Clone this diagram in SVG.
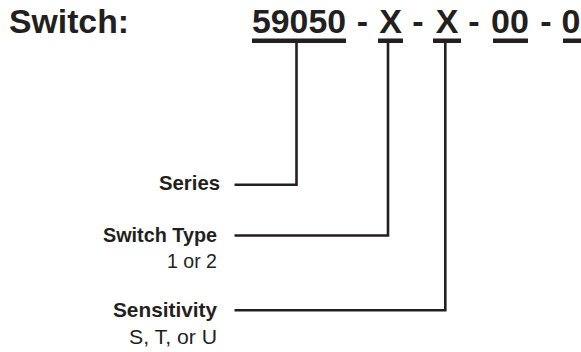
<svg xmlns="http://www.w3.org/2000/svg" width="581" height="352" viewBox="0 0 581 352">
<style>
.t{font-family:"Liberation Sans",Arial,sans-serif;fill:#231f20}
.big{font-size:34px;font-weight:bold}
.lab{font-size:21px;font-weight:bold}
.sub{font-size:20px}
.ul{fill:#231f20}
.ln{fill:none;stroke:#231f20;stroke-width:2.6}
</style>
<rect width="581" height="352" fill="#fff"/>
<g id="title">
<text class="t big" x="9" y="33" textLength="120" lengthAdjust="spacingAndGlyphs">Switch:</text>
</g>
<g id="part-number">
<text class="t big" x="252" y="33" textLength="94" lengthAdjust="spacingAndGlyphs">59050</text>
<text class="t big" x="362.5" y="33" text-anchor="middle">-</text>
<text class="t big" x="390.5" y="33" text-anchor="middle">X</text>
<text class="t big" x="418" y="33" text-anchor="middle">-</text>
<text class="t big" x="447" y="33" text-anchor="middle">X</text>
<text class="t big" x="474" y="33" text-anchor="middle">-</text>
<text class="t big" x="510" y="33" text-anchor="middle">00</text>
<text class="t big" x="546" y="33" text-anchor="middle">-</text>
<text class="t big" x="571" y="33" text-anchor="middle">0</text>
<rect class="ul" x="252" y="38.5" width="94" height="4.5"/>
<rect class="ul" x="378" y="38.5" width="25" height="4.5"/>
<rect class="ul" x="433" y="38.5" width="28" height="4.5"/>
<rect class="ul" x="493" y="38.5" width="35" height="4.5"/>
<rect class="ul" x="563" y="38.5" width="18" height="4.5"/>
</g>
<g id="connectors">
<path class="ln" d="M234.5 184.7H296.5V43"/>
<path class="ln" d="M234.5 235.5H388V43"/>
<path class="ln" d="M234.5 310.3H445.3V43"/>
</g>
<g id="series">
<text class="t lab" x="159" y="190" textLength="61" lengthAdjust="spacingAndGlyphs">Series</text>
</g>
<g id="switch-type">
<text class="t lab" x="103" y="242" textLength="114" lengthAdjust="spacingAndGlyphs">Switch Type</text>
<text class="t sub" x="167" y="268" textLength="50" lengthAdjust="spacingAndGlyphs">1 or 2</text>
</g>
<g id="sensitivity">
<text class="t lab" x="113" y="317" textLength="104" lengthAdjust="spacingAndGlyphs">Sensitivity</text>
<text class="t sub" x="129" y="344" textLength="88" lengthAdjust="spacingAndGlyphs">S, T, or U</text>
</g>
</svg>
